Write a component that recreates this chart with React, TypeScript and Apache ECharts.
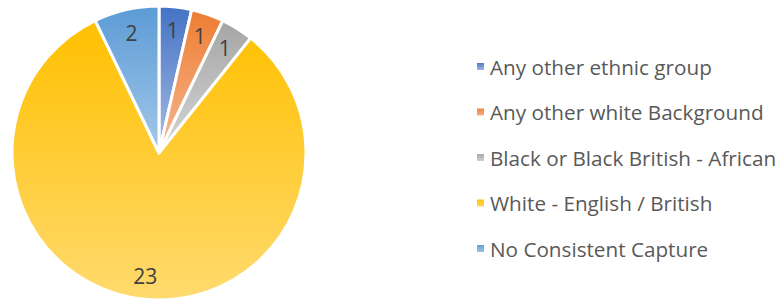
import React, { useEffect, useRef } from "react";
import * as echarts from "echarts";

const categories = [
  "Any other ethnic group",
  "Any other white Background",
  "Black or Black British - African",
  "White - English / British",
  "No Consistent Capture",
];
const values = [1, 1, 1, 23, 2];
const topColors = ["#4472C4", "#ED7D31", "#A5A5A5", "#FFC000", "#5B9BD5"];
const bottomColors = ["#A9BDE6", "#F6B894", "#D6D6D6", "#FFDA6E", "#A4C8EA"];

const grad = (i: number) =>
  new echarts.graphic.LinearGradient(0, 0, 0, 1, [
    { offset: 0, color: topColors[i] },
    { offset: 1, color: bottomColors[i] },
  ]);

export default function App() {
  const ref = useRef<HTMLDivElement>(null);
  useEffect(() => {
    if (!ref.current) return;
    const chart = echarts.init(ref.current, null, { renderer: "svg" });
    const data = categories.map((name, i) => ({
      name,
      value: values[i],
      itemStyle: { color: grad(i) },
    }));
    const labelData = categories.map((name, i) => ({
      name,
      value: values[i],
    }));
    chart.setOption({
      animation: false,
      backgroundColor: "#ffffff",
      legend: {
        orient: "vertical",
        left: 470,
        top: 51,
        icon: "rect",
        itemWidth: 9,
        itemHeight: 9,
        itemGap: 24.5,
        data: categories,
        textStyle: {
          fontFamily: "Open Sans",
          fontSize: 20.7,
          lineHeight: 20,
          color: "#595959",
        },
      },
      series: [
        {
          type: "pie",
          center: [159, 153],
          radius: [0, 147],
          startAngle: 90,
          clockwise: true,
          itemStyle: { borderColor: "#ffffff", borderWidth: 3 },
          label: { show: false },
          labelLine: { show: false },
          emphasis: { disabled: true },
          data,
        },
        {
          type: "pie",
          center: [159, 153],
          radius: [94, 147],
          startAngle: 90,
          clockwise: true,
          silent: true,
          legendHoverLink: false,
          itemStyle: { color: "rgba(0,0,0,0)", borderWidth: 0 },
          label: {
            show: true,
            position: "inside",
            formatter: "{c}",
            fontFamily: "Open Sans",
            fontSize: 21,
            color: "#404040",
          },
          labelLine: { show: false },
          emphasis: { disabled: true },
          data: labelData,
        },
      ],
    });
    return () => chart.dispose();
  }, []);
  return (
    <div
      ref={ref}
      style={{ position: "fixed", left: 0, top: 0, width: 781, height: 302 }}
    />
  );
}
